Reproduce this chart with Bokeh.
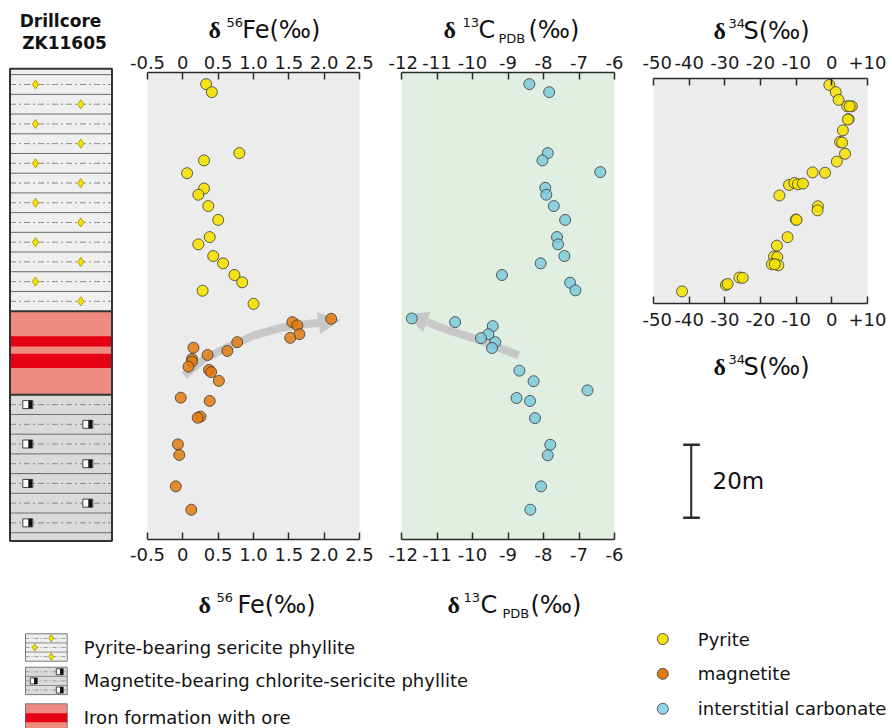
from bokeh.plotting import figure
from bokeh.models import Range1d, FixedTicker, LinearAxis, Arrow, NormalHead
from bokeh.layouts import row, column
from bokeh.embed import file_html
from bokeh.resources import INLINE
from bokeh.core.properties import value

# ---------------- data (depth in m below top of drill section) ----------------
fe_pyrite = [0.33, 0.41, 0.80, 0.30, 0.06, 0.30, 0.22, 0.36, 0.50, 0.38, 0.22, 0.43, 0.57, 0.73, 0.84, 0.28, 1.00]
fe_pyrite_depth = [4.2, 6.4, 23.1, 25.1, 28.6, 32.8, 34.5, 37.6, 41.4, 46.1, 48.1, 51.3, 53.3, 56.5, 58.5, 60.8, 64.4]

fe_magnetite = [2.10, 1.55, 1.62, 1.65, 1.52, 0.77, 0.63, 0.15, 0.35, 0.13, 0.13, 0.08, 0.37, 0.40,
                0.51, -0.03, 0.38, 0.25, 0.21, -0.07, -0.05, -0.10, 0.12]
fe_magnetite_depth = [68.5, 69.4, 70.3, 72.7, 73.7, 74.9, 77.3, 76.4, 78.4, 79.5, 80.2, 81.6, 82.5, 83.1,
                      85.5, 90.1, 91.0, 95.3, 95.6, 102.9, 105.8, 114.4, 120.8]

c_carbonate = [-8.40, -7.84, -7.88, -8.03, -6.40, -7.95, -7.92, -7.71, -7.39, -7.62, -7.59, -7.41, -8.08,
               -9.17, -7.25, -7.10, -11.71, -10.49, -9.43, -9.55, -9.76, -9.36, -9.45, -8.68, -8.28,
               -6.76, -8.76, -8.38, -8.24, -7.81, -7.88, -8.07, -8.37]
c_carbonate_depth = [4.2, 6.4, 23.1, 25.1, 28.3, 32.6, 34.5, 37.6, 41.4, 46.1, 48.1, 51.3, 53.3, 56.5, 58.6,
                     60.7, 68.4, 69.4, 70.5, 72.7, 73.8, 74.9, 76.5, 82.7, 85.6, 88.1, 90.2, 91.0, 95.7,
                     103.0, 105.9, 114.4, 120.8]

# sulfur panel has its own (pyrite-interval) depth scale
s_pyrite = [-0.7, 1.1, 1.9, 4.3, 5.6, 5.0, 4.7, 4.5, 3.1, 2.3, 2.9, 3.7, 1.4, -5.4, -1.9, -12.0, -10.5,
            -9.5, -8.1, -14.7, -3.9, -4.0, -10.1, -9.9, -12.4, -15.4, -16.2, -15.3, -16.8, -15.0, -16.0,
            -25.9, -25.0, -29.7, -29.2, -42.0]
s_pyrite_depth = [1.9, 4.0, 6.3, 8.2, 8.2, 8.2, 12.0, 12.1, 15.3, 18.7, 18.9, 22.2, 24.5, 27.7, 27.8, 31.4,
                  30.8, 31.2, 31.0, 34.5, 37.7, 38.9, 41.6, 41.7, 46.8, 49.3, 52.5, 52.7, 54.8, 55.1, 54.8,
                  58.7, 58.8, 60.9, 60.6, 62.8]

# trend arrows
fe_trend = [0.02, 0.30, 0.63, 1.00, 1.38, 1.76, 1.95]
fe_trend_depth = [84.0, 79.5, 76.3, 73.1, 71.0, 69.9, 69.6]
fe_trend_tip = (2.23, 68.8)
c_trend = [-8.70, -9.78, -10.72, -11.28]
c_trend_depth = [78.5, 74.4, 71.5, 69.4]
c_trend_tip = (-11.87, 67.3)

# lithology column
unit_top = [0.0, 66.4, 89.3]
unit_base = [66.4, 89.3, 129.4]
ore_top = [73.3, 78.1]
ore_base = [76.1, 82.0]
drill_title = ["Drillcore", "ZK11605"]

fe_ticks = [-0.5, 0, 0.5, 1, 1.5, 2, 2.5]
fe_tick_labels = ["-0.5", "0", "0.5", "1.0", "1.5", "2.0", "2.5"]
c_ticks = [-12, -11, -10, -9, -8, -7, -6]
c_tick_labels = ["-12", "-11", "-10", "-9", "-8", "-7", "-6"]
s_ticks = [-50, -40, -30, -20, -10, 0, 10]
s_tick_labels = ["-50", "-40", "-30", "-20", "-10", "0", "+10"]

legend_litho = ["Pyrite-bearing sericite phyllite", "Magnetite-bearing chlorite-sericite phyllite",
                "Iron formation with ore"]
legend_points = ["Pyrite", "magnetite", "interstitial carbonate"]
scale_bar_m = 20

# ---------------- style ----------------
PY_COL = "#f6e200"
MAG_COL = "#e27a0e"
CARB_COL = "#7ccadd"
LEG_CARB = "#8fd4ea"
PT_LINE = "#3a3a3a"
FONT = "DejaVu Sans"
PX_PER_M = 3.65      # vertical scale of the drill core (px per m)
LAYER = 5.4          # thickness of one symbol layer in the column pattern (m)
DESC = {"DejaVu Sans": 0.236, "Liberation Serif": 0.216}   # font descent (em), to place baselines


def base_fig(width, height, xr, yr, bl=0, br=0, bt=0, bb=0, bg="white"):
    p = figure(width=width, height=height, x_range=Range1d(*xr), y_range=Range1d(*yr),
               output_backend="svg", toolbar_location=None,
               x_axis_location=None, y_axis_location=None,
               min_border_left=bl, min_border_right=br, min_border_top=bt, min_border_bottom=bb,
               background_fill_color=bg, border_fill_color="white", outline_line_color=None)
    p.xgrid.visible = False
    p.ygrid.visible = False
    return p


def add_axes(p, ticks, labels, so_top, so_bot):
    ov = {}
    for t, l in zip(ticks, labels):
        ov[int(t) if float(t).is_integer() else float(t)] = l
    for loc, so in (("above", so_top), ("below", so_bot)):
        ax = LinearAxis(ticker=FixedTicker(ticks=list(ticks), minor_ticks=[]),
                        major_label_overrides=ov)
        ax.axis_line_color = "#2a2a2a"
        ax.axis_line_width = 1.5
        ax.major_tick_line_color = "#2a2a2a"
        ax.major_tick_line_width = 1.5
        ax.major_tick_in = 7
        ax.major_tick_out = 0
        ax.minor_tick_line_color = None
        ax.major_label_standoff = so
        ax.major_label_text_font = FONT
        ax.major_label_text_font_size = "18px"
        ax.major_label_text_color = "#1a1a1a"
        p.add_layout(ax, loc)


def title_fig(width, height, bl, br, x0, y0, pieces):
    """Strip holding an axis title made of pieces: (text, font, size, style, left_px, baseline_px)."""
    f = base_fig(width, height, (x0 + bl, x0 + width - br), (y0 + height, y0), bl=bl, br=br)
    for txt, font, size, style, wx, wy in pieces:
        f.text(x=[wx], y=[wy - DESC[font] * size], text=[txt], text_font=value(font),
               text_font_size=f"{size}px", text_font_style=style, text_align="left",
               text_baseline="alphabetic", text_color="#111111")
    return f


def delta_pieces(iso, main, sub, x0, x_iso, x_main, x_sub, x_rest, base):
    pcs = [("δ", "Liberation Serif", 24, "bold", x0, base),
           (iso, FONT, 13, "normal", x_iso, base - 10),
           (main, FONT, 24, "normal", x_main, base)]
    if sub:
        pcs.append((sub, FONT, 13, "normal", x_sub, base + 6.5))
        pcs.append(("(‰)", FONT, 24, "normal", x_rest, base))
    return pcs


# ---------------- drill core column ----------------
drill = base_fig(128, 620, (0, 128), ((620 - 68.3) / PX_PER_M, (0 - 68.3) / PX_PER_M))
XL, XR = 9.5, 111.5
unit_fill = ["#efefef", "#ef8b80", "#dadada"]
drill.quad(left=XL, right=XR, top=unit_top, bottom=unit_base, fill_color=unit_fill, line_color=None)
drill.quad(left=XL, right=XR, top=ore_top, bottom=ore_base, fill_color="#e60014", line_color=None)

py_bounds = [unit_base[0] - k * LAYER for k in range(0, 13)]
mag_bounds = [unit_top[2] + k * LAYER for k in range(0, 8)]
py_lines = [b for b in py_bounds if unit_top[0] < b < unit_base[0]]
mag_lines = [b for b in mag_bounds if unit_top[2] < b < unit_base[2]]
drill.segment(x0=XL, x1=XR, y0=py_lines + mag_lines, y1=py_lines + mag_lines,
              line_color="#6a6a6a", line_width=1)
py_mid = sorted([(py_bounds[k] + py_bounds[k + 1]) / 2 for k in range(12)])
mag_mid = [(mag_bounds[k] + mag_bounds[k + 1]) / 2 for k in range(7)]
drill.segment(x0=XL, x1=XR, y0=py_mid + mag_mid, y1=py_mid + mag_mid,
              line_color="#8a8a8a", line_width=1, line_dash="6 3 2 3")
dx = [35 if i % 2 == 0 else 80.3 for i in range(len(py_mid))]
drill.scatter(x=dx, y=py_mid, marker="diamond", size=9, fill_color="#f8e600",
              line_color="#b0a000", line_width=1)
sx = [27.3 if i % 2 == 0 else 87.3 for i in range(len(mag_mid))]
drill.rect(x=sx, y=mag_mid, width=10, height=8, height_units="screen",
           fill_color="white", line_color="#444444", line_width=1)
drill.rect(x=[v + 2.5 for v in sx], y=mag_mid, width=4, height=8, height_units="screen",
           fill_color="#111111", line_color=None)
drill.segment(x0=XL, x1=XR, y0=unit_top[1:], y1=unit_top[1:], line_color="#333333", line_width=2)
drill.quad(left=XL, right=XR, top=unit_top[0], bottom=unit_base[-1], fill_color=None,
           line_color="#333333", line_width=2)
drill.text(x=[60, 64], y=[(20.5 - 68.3) / PX_PER_M, (42.2 - 68.3) / PX_PER_M], text=drill_title,
           text_font=value(FONT), text_font_style="bold", text_font_size="17px",
           text_align="center", text_baseline="alphabetic", text_color="#111111")

# ---------------- Fe panel (x 128..388) ----------------
FE_Y = ((539 - 68.3) / PX_PER_M, (72 - 68.3) / PX_PER_M)
fe = base_fig(260, 526, (-0.5, 2.5), FE_Y, bl=19, br=29, bt=26, bb=33, bg="#ececec")
add_axes(fe, fe_ticks, fe_tick_labels, 4, 8)
fe.line(x=fe_trend, y=fe_trend_depth, line_color="#c8c8c8", line_width=8, line_cap="butt")
fe.add_layout(Arrow(end=NormalHead(size=22, fill_color="#c8c8c8", line_color=None),
                    x_start=fe_trend[-1], y_start=fe_trend_depth[-1],
                    x_end=fe_trend_tip[0], y_end=fe_trend_tip[1],
                    line_alpha=0, level="underlay"))
fe.scatter(x=fe_pyrite, y=fe_pyrite_depth, size=11, fill_color=PY_COL, fill_alpha=0.9,
           line_color=PT_LINE, line_alpha=0.8)
fe.scatter(x=fe_magnetite, y=fe_magnetite_depth, size=11, fill_color=MAG_COL, fill_alpha=0.85,
           line_color=PT_LINE, line_alpha=0.8)
fe_t = title_fig(260, 46, 19, 29, 128, 0, delta_pieces("56", "Fe(‰)", None, 208, 226, 241.7, 0, 0, 35))
fe_b = title_fig(260, 48, 19, 29, 128, 572, delta_pieces("56", "Fe(‰)", None, 198, 216, 237, 0, 0, 610))

# ---------------- C panel (x 388..642) ----------------
c = base_fig(254, 526, (-12, -6), FE_Y, bl=13, br=28, bt=26, bb=33, bg="#e0efe1")
add_axes(c, c_ticks, c_tick_labels, 4, 8)
c.line(x=c_trend, y=c_trend_depth, line_color="#c8c8c8", line_width=8, line_cap="butt")
c.add_layout(Arrow(end=NormalHead(size=22, fill_color="#c8c8c8", line_color=None),
                   x_start=c_trend[-1], y_start=c_trend_depth[-1],
                   x_end=c_trend_tip[0], y_end=c_trend_tip[1],
                   line_alpha=0, level="underlay"))
c.scatter(x=c_carbonate, y=c_carbonate_depth, size=11, fill_color=CARB_COL, fill_alpha=0.85,
          line_color=PT_LINE, line_alpha=0.8)
c_t = title_fig(254, 46, 13, 28, 388, 0, delta_pieces("13", "C", "PDB", 443, 462, 478, 498, 528, 35))
c_b = title_fig(254, 48, 13, 28, 388, 572, delta_pieces("13", "C", "PDB", 447, 463, 480, 502, 530, 610))

# ---------------- S panel (x 642..892) ----------------
S_Y = ((303 - 78) / 3.39, 0)
s = base_fig(250, 294, (-50, 10), S_Y, bl=11, br=25, bt=32, bb=37, bg="#ececec")
add_axes(s, s_ticks, s_tick_labels, 10, 9)
s.scatter(x=s_pyrite, y=s_pyrite_depth, size=11, fill_color=PY_COL, fill_alpha=0.85,
          line_color=PT_LINE, line_alpha=0.8)
s_t = title_fig(250, 46, 11, 25, 642, 0, delta_pieces("34", "S(‰)", None, 713, 728, 743, 0, 0, 36))
s_b = title_fig(250, 60, 11, 25, 642, 340, delta_pieces("34", "S(‰)", None, 713, 728, 743, 0, 0, 371.7))

# scale bar strip (y 400..620), vertical axis in metres
sc = base_fig(250, 220, (653, 867), (220 / PX_PER_M, 0), bl=11, br=25)
bar_top = (444.3 - 400) / PX_PER_M
sc.segment(x0=[690.7], x1=[690.7], y0=[bar_top], y1=[bar_top + scale_bar_m],
           line_color="#2a2a2a", line_width=2)
sc.segment(x0=[682.7, 682.7], x1=[699.3, 699.3], y0=[bar_top, bar_top + scale_bar_m],
           y1=[bar_top, bar_top + scale_bar_m], line_color="#2a2a2a", line_width=2.5)
sc.text(x=[712], y=[bar_top + scale_bar_m / 2], text=[f"{scale_bar_m}m"], text_font=value(FONT),
        text_font_size="23px", text_baseline="middle", text_color="#111111")

# ---------------- lithology legend (y 620..728) ----------------
lg = base_fig(600, 108, (0, 600), (728, 620))
sw_top = [633.3, 666.7, 703.3]
sw_h = 27.4
text_y = [646.5, 679.5, 717.0]
lg.text(x=[83.3] * 3, y=text_y, text=legend_litho, text_font=value(FONT), text_font_size="18px",
        text_baseline="middle", text_color="#111111")
for k, bg in ((0, "#efefef"), (1, "#dadada")):
    t = sw_top[k]
    lg.quad(left=25, right=66.7, top=t, bottom=t + sw_h, fill_color=bg, line_color="#777777")
    rows = [t + sw_h * (j + 0.5) / 3 for j in range(3)]
    seps = [t + sw_h * j / 3 for j in (1, 2)]
    lg.segment(x0=25, x1=66.7, y0=seps, y1=seps, line_color="#8a8a8a", line_width=1)
    lg.segment(x0=25, x1=66.7, y0=rows, y1=rows, line_color="#999999", line_width=1, line_dash="4 2 1 2")
    if k == 0:
        lg.scatter(x=[50.7, 34.3, 50.7], y=rows, marker="diamond", size=7, fill_color="#f8e600",
                   line_color="#b0a000")
    else:
        xs = [59.3, 33.3, 59.3]
        lg.rect(x=xs, y=rows, width=7, height=6, fill_color="white", line_color="#444444")
        lg.rect(x=[v + 1.75 for v in xs], y=rows, width=3, height=6, fill_color="#111111", line_color=None)
t3 = sw_top[2]
lg.quad(left=25, right=66.7, top=t3, bottom=t3 + sw_h, fill_color="#ef8b80", line_color="#777777")
lg.quad(left=25, right=66.7, top=712.7, bottom=721.7, fill_color="#e60014", line_color=None)

# ---------------- point legend ----------------
pl = base_fig(292, 108, (600, 892), (728, 620))
pt_y = [638.5, 673.3, 708.3]
pl.scatter(x=[662.3] * 3, y=pt_y, size=11, fill_color=[PY_COL, MAG_COL, LEG_CARB],
           line_color="#555555", line_width=1)
pl.text(x=[697.3] * 3, y=pt_y, text=legend_points, text_font=value(FONT), text_font_size="18px",
        text_baseline="middle", text_color="#111111")

top = row(column(drill), column(fe_t, fe, fe_b), column(c_t, c, c_b), column(s_t, s, s_b, sc))
layout = column(top, row(lg, pl))
open("out.html", "w").write(file_html(layout, INLINE))
